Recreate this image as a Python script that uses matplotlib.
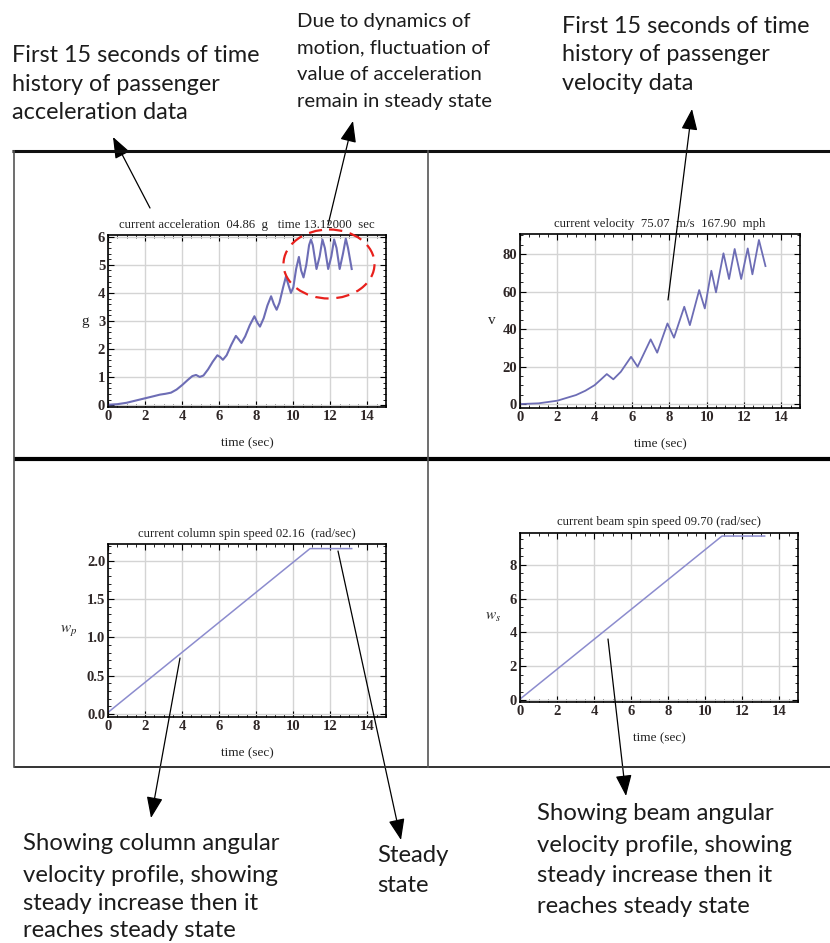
import matplotlib
matplotlib.use("Agg")
import matplotlib.pyplot as plt
from matplotlib.patches import Ellipse, FancyArrowPatch
from matplotlib.ticker import MultipleLocator, FormatStrFormatter

# ---------------- data ----------------
acc_time = [0.0, 0.5, 1.0, 1.5, 2.0, 2.5, 2.8, 3.1, 3.4, 3.7, 4.0, 4.3, 4.55, 4.75,
            4.95, 5.15, 5.4, 5.65, 5.9, 6.05, 6.2, 6.4, 6.65, 6.9, 7.05, 7.2, 7.4,
            7.65, 7.9, 8.05, 8.2, 8.4, 8.6, 8.8, 8.95, 9.1, 9.25, 9.45, 9.6, 9.75,
            9.87, 10.0, 10.15, 10.3, 10.42, 10.55, 10.7, 10.85, 10.95, 11.05, 11.25,
            11.42, 11.57, 11.7, 11.88, 12.05, 12.2, 12.33, 12.5, 12.68, 12.83, 12.95, 13.15]
acc_g = [0.02, 0.04, 0.09, 0.17, 0.25, 0.33, 0.38, 0.41, 0.45, 0.56, 0.72, 0.90, 1.04, 1.08,
         1.01, 1.06, 1.28, 1.55, 1.78, 1.72, 1.62, 1.78, 2.15, 2.47, 2.35, 2.22, 2.45,
         2.85, 3.17, 2.95, 2.80, 3.10, 3.55, 3.88, 3.60, 3.40, 3.65, 4.20, 4.58, 4.25,
         4.00, 4.20, 4.85, 5.28, 4.80, 4.55, 5.00, 5.70, 5.90, 5.70, 4.85,
         5.30, 5.90, 5.60, 4.85, 5.30, 5.90, 5.60, 4.85, 5.40, 5.93, 5.60, 4.85]

vel_time = [0.0, 1.0, 2.0, 3.0, 3.5, 4.0, 4.3, 4.65, 5.0, 5.4, 5.95, 6.3, 7.0, 7.35,
            7.9, 8.25, 8.8, 9.1, 9.6, 9.9, 10.25, 10.5, 10.9, 11.2, 11.5, 11.85,
            12.2, 12.45, 12.8, 13.15]
vel_v = [0.0, 0.4, 1.8, 4.8, 7.1, 10.1, 12.8, 16.0, 13.2, 17.2, 25.2, 19.9, 34.5, 27.4,
         43.0, 35.4, 51.9, 42.1, 60.8, 51.0, 71.1, 59.6, 80.4, 66.7, 82.7, 66.7,
         83.0, 69.2, 87.5, 73.6]

col_time = [0.0, 10.9, 13.15]
col_w = [0.02, 2.16, 2.16]

beam_time = [0.0, 10.9, 13.2]
beam_w = [0.05, 9.7, 9.7]

titles = ["current acceleration  04.86  g   time 13.12000  sec",
          "current velocity  75.07  m/s  167.90  mph",
          "current column spin speed 02.16  (rad/sec)",
          "current beam spin speed 09.70 (rad/sec)"]
ylabels = ["g", "v", "$w_p$", "$w_s$"]
xlabel = "time (sec)"

note_tl = ["First 15 seconds of time", "history of passenger", "acceleration data"]
note_tm = ["Due to dynamics of", "motion, fluctuation of", "value of acceleration",
           "remain in steady state"]
note_tr = ["First 15 seconds of time", "history of passenger", "velocity data"]
note_bl = ["Showing column angular", "velocity profile, showing",
           "steady increase then it", "reaches steady state"]
note_bm = ["Steady", "state"]
note_br = ["Showing beam angular", "velocity profile, showing",
           "steady increase then it", "reaches steady state"]

# ---------------- figure ----------------
W, H = 830, 943
plt.rcParams["mathtext.fontset"] = "stix"
fig = plt.figure(figsize=(W / 100, H / 100), dpi=100)

SERIF = ["Liberation Serif", "DejaVu Serif"]
SANS = ["Lato", "DejaVu Sans"]
TICKC = "#2e2626"


def add_ax(x0, y0, x1, y1):
    return fig.add_axes([x0 / W, 1 - y1 / H, (x1 - x0) / W, (y1 - y0) / H])


def style(ax, xlim, ylim, ymaj, ymin, title, ylab, ylab_dx, title_dy, hpx, wpx):
    ax.set_xlim(*xlim)
    ax.set_ylim(*ylim)
    ax.xaxis.set_major_locator(MultipleLocator(2))
    ax.xaxis.set_minor_locator(MultipleLocator(0.5))
    ax.yaxis.set_major_locator(MultipleLocator(ymaj))
    ax.yaxis.set_minor_locator(MultipleLocator(ymin))
    ax.grid(True, which="major", color="#d4d4d4", lw=1.0)
    ax.set_axisbelow(True)
    ax.tick_params(which="both", direction="in", top=True, right=True,
                   labelsize=10.5, colors="black", labelcolor=TICKC, pad=2)
    ax.tick_params(which="major", length=4, width=0.8)
    ax.tick_params(which="minor", length=2, width=0.6)
    for lab in ax.get_xticklabels() + ax.get_yticklabels():
        lab.set_fontfamily(SERIF)
        lab.set_fontweight("bold")
    for sp in ax.spines.values():
        sp.set_linewidth(1.2)
        sp.set_color("black")
    ax.set_title(title, fontsize=9.2, family=SERIF, color="#222222", pad=title_dy)
    ax.set_xlabel(xlabel, fontsize=9.5, family=SERIF, color="#222222", va="center")
    ax.xaxis.set_label_coords(0.5, -36 / hpx)
    ax.set_ylabel(ylab, fontsize=11, family=SERIF, rotation=0, color="#222222",
                  va="center", ha="center")
    ax.yaxis.set_label_coords(-ylab_dx / wpx, 0.5)


LINE1 = "#6d6db5"
LINE2 = "#8c8cce"

ax1 = add_ax(108, 235, 386, 407)
ax1.plot(acc_time, acc_g, color=LINE1, lw=1.5)
style(ax1, (0, 15), (-0.06, 6.06), 1, 0.2, titles[0], ylabels[0], 23, 5, 172, 278)

ax2 = add_ax(520, 234, 800, 408)
ax2.plot(vel_time, vel_v, color=LINE1, lw=1.3)
style(ax2, (0, 15), (-2.1, 90.7), 20, 5, titles[1], ylabels[1], 28, 5, 174, 280)

ax3 = add_ax(108, 544, 386, 717)
ax3.plot(col_time, col_w, color=LINE2, lw=1.1)
style(ax3, (0, 15), (-0.04, 2.22), 0.5, 0.1, titles[2], ylabels[2], 39, 5, 173, 278)
ax3.yaxis.set_major_formatter(FormatStrFormatter("%.1f"))

ax4 = add_ax(520, 533, 798, 702)
ax4.plot(beam_time, beam_w, color=LINE2, lw=1.1)
style(ax4, (0, 15), (-0.12, 9.88), 2, 0.5, titles[3], ylabels[3], 27, 6, 169, 278)

# ---------------- overlay (pixel coordinates) ----------------
ov = fig.add_axes([0, 0, 1, 1], zorder=10)
ov.set_xlim(0, W)
ov.set_ylim(H, 0)
ov.set_facecolor("none")
ov.axis("off")

# table borders
ov.plot([12, 830], [151, 151], color="#111111", lw=2.2, solid_capstyle="butt")
ov.plot([14, 830], [459, 459], color="black", lw=3.0, solid_capstyle="butt")
ov.plot([14, 830], [767, 767], color="#333333", lw=1.4, solid_capstyle="butt")
ov.plot([14, 14], [151, 767], color="#555555", lw=1.2)
ov.plot([428, 428], [151, 767], color="#555555", lw=1.2)

# red dashed ellipse
ov.add_patch(Ellipse((329, 264), 91, 69, fill=False, edgecolor="#e8201c",
                     lw=1.6, linestyle=(0, (6, 3.5))))

# arrows (tail -> head)
arrows = [((150, 208), (113, 137)),
          ((328, 225), (353, 121)),
          ((668, 300), (692, 109)),
          ((180, 658), (151, 818)),
          ((338, 551), (401, 840)),
          ((608, 639), (626, 796))]
for tail, head in arrows:
    ov.add_patch(FancyArrowPatch(tail, head, arrowstyle="-|>,head_length=1.3,head_width=0.5",
                                 mutation_scale=10, color="black", lw=0.9,
                                 shrinkA=0, shrinkB=0))


def note(lines, x, baselines, size):
    for s, y in zip(lines, baselines):
        ov.text(x, y, s, fontsize=size, family=SANS, color="#1c1c1c",
                ha="left", va="baseline")


note(note_tl, 12, [62, 91, 119], 16.8)
note(note_tm, 297, [27, 53, 80, 107], 14.6)
note(note_tr, 562, [33, 61, 90], 16.8)
note(note_bl, 23, [850, 882, 910, 937], 17.2)
note(note_bm, 377, [862, 892], 17.2)
note(note_br, 537, [820, 852, 882, 913], 17.2)

fig.savefig("out.png", dpi=100)
